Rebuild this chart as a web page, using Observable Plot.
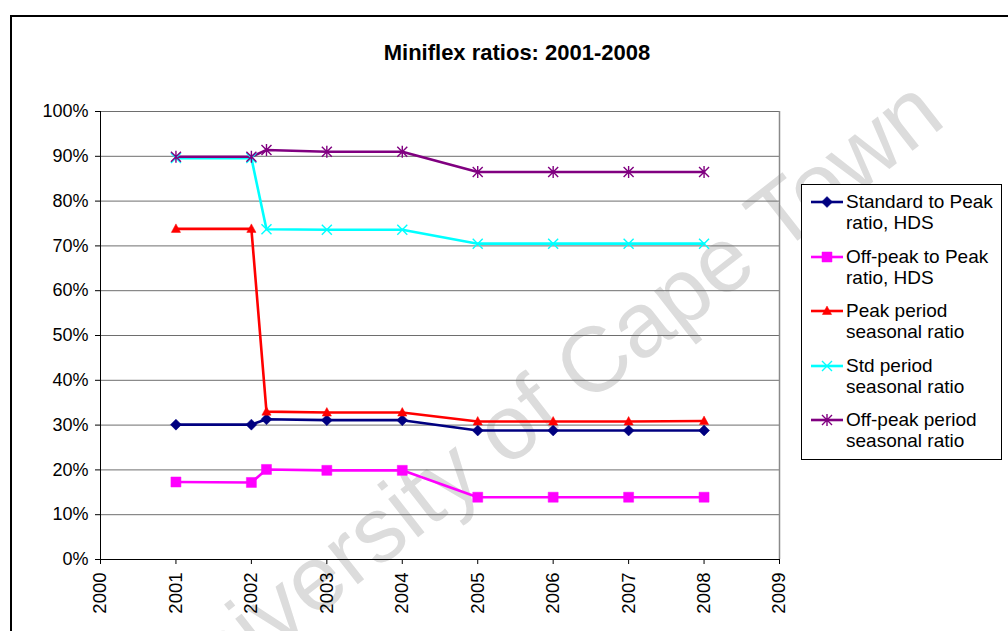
<!DOCTYPE html>
<html>
<head>
<meta charset="utf-8">
<script src="https://cdn.jsdelivr.net/npm/d3@7"></script>
<script src="https://cdn.jsdelivr.net/npm/@observablehq/plot@0.6"></script>
<style>
  html, body { margin: 0; padding: 0; background: white; }
  #wrap { position: relative; width: 1008px; height: 631px; overflow: hidden; background: white; font-family: "Liberation Sans", Arial, sans-serif; }
  #frame { position: absolute; left: 10px; top: 15px; width: 1200px; height: 800px; border: 2px solid black; }
  #watermark { position: absolute; left: 538px; top: 403px; transform: translate(-50%, -50%) rotate(-38deg); font-size: 92px; line-height: 1; color: #dcdcdc; white-space: nowrap; }
  #chart { position: absolute; left: 0; top: 0; }
  #title { position: absolute; left: 0; width: 1034px; top: 40px; text-align: center; font-weight: bold; font-size: 22px; }
  #legend { position: absolute; left: 801px; top: 184px; width: 201px; height: 276px; border: 1px solid black; background: white; box-sizing: border-box; }
  .entry { position: absolute; left: 7px; }
  .entry svg { position: absolute; left: 0; top: 0; }
  .entry .lbl { position: absolute; left: 37px; top: -11px; font-size: 19px; line-height: 21px; white-space: nowrap; }
</style>
</head>
<body>
<div id="wrap">
  <div id="frame"></div>
  <div id="watermark">University of Cape Town</div>
  <div id="chart"></div>
  <div id="title">Miniflex ratios: 2001-2008</div>
  <div id="legend"></div>
</div>
<script>
// ---- data ----
const years = [2001, 2002, 2002.2, 2003, 2004, 2005, 2006, 2007, 2008];
const seriesNames = [
  "Standard to Peak ratio, HDS",
  "Off-peak to Peak ratio, HDS",
  "Peak period seasonal ratio",
  "Std period seasonal ratio",
  "Off-peak period seasonal ratio"
];
const legendLines = [
  ["Standard to Peak", "ratio, HDS"],
  ["Off-peak to Peak", "ratio, HDS"],
  ["Peak period", "seasonal ratio"],
  ["Std period", "seasonal ratio"],
  ["Off-peak period", "seasonal ratio"]
];
const stdToPeakHDS      = [30.1, 30.1, 31.3, 31.1, 31.1, 28.8, 28.8, 28.8, 28.8];
const offpeakToPeakHDS  = [17.3, 17.2, 20.1, 19.9, 19.9, 13.9, 13.9, 13.9, 13.9];
const peakSeasonal      = [73.8, 73.8, 33.0, 32.8, 32.8, 30.8, 30.8, 30.8, 30.9];
const stdSeasonal       = [89.6, 89.6, 73.7, 73.6, 73.6, 70.5, 70.5, 70.5, 70.5];
const offpeakSeasonal   = [89.9, 89.9, 91.4, 91.0, 91.0, 86.5, 86.5, 86.5, 86.5];
const xTicks = [2000, 2001, 2002, 2003, 2004, 2005, 2006, 2007, 2008, 2009];
const yTicks = [0, 10, 20, 30, 40, 50, 60, 70, 80, 90, 100];

const seriesValues = [stdToPeakHDS, offpeakToPeakHDS, peakSeasonal, stdSeasonal, offpeakSeasonal];
const colors = ["#000080", "#FF00FF", "#FF0000", "#00FFFF", "#800080"];

// ---- marker symbols (Excel-like) ----
const symDiamond = {draw(c) { const r = 5.5; c.moveTo(0, -r); c.lineTo(r, 0); c.lineTo(0, r); c.lineTo(-r, 0); c.closePath(); }};
const symSquare = {draw(c) { const r = 5; c.moveTo(-r, -r); c.lineTo(r, -r); c.lineTo(r, r); c.lineTo(-r, r); c.closePath(); }};
const symTriangle = {draw(c) { c.moveTo(0, -5); c.lineTo(4.6, 3.5); c.lineTo(-4.6, 3.5); c.closePath(); }};
const symTimes = {draw(c) { const r = 5; c.moveTo(-r, -r); c.lineTo(r, r); c.moveTo(r, -r); c.lineTo(-r, r); }};
const symStar = {draw(c) { const r = 5; c.moveTo(-r, -r); c.lineTo(r, r); c.moveTo(r, -r); c.lineTo(-r, r); c.moveTo(0, -r - 1); c.lineTo(0, r + 1); }};
const symbols = [symDiamond, symSquare, symTriangle, symTimes, symStar];
const filled = [true, true, true, false, false];

const data = seriesNames.flatMap((s, i) => years.map((x, j) => ({series: s, x, y: seriesValues[i][j]})));

const W = 1008, H = 631;
const marks = [
  Plot.gridY(yTicks, {stroke: "#6e6e6e", strokeOpacity: 1, strokeWidth: 1}),
  Plot.ruleX([2009], {stroke: "#8a8a8a", strokeWidth: 1.5}),
  Plot.axisY(yTicks, {tickSize: 5, tickPadding: 7, tickFormat: d => d + "%", fontSize: 18, label: null}),
  Plot.axisX(xTicks, {tickSize: 5, tickPadding: 8, tickRotate: -90, tickFormat: d => String(d), fontSize: 18.5, label: null}),
  Plot.ruleX([2000], {stroke: "black", strokeWidth: 1}),
  Plot.ruleY([0], {stroke: "black", strokeWidth: 1})
];
seriesNames.forEach((s, i) => {
  const d = data.filter(r => r.series === s);
  marks.push(Plot.line(d, {x: "x", y: "y", stroke: colors[i], strokeWidth: 2.6, curve: "linear"}));
});
seriesNames.forEach((s, i) => {
  const d = data.filter(r => r.series === s);
  marks.push(Plot.dot(d, filled[i]
    ? {x: "x", y: "y", symbol: symbols[i], fill: colors[i], stroke: colors[i], strokeWidth: 0.5}
    : {x: "x", y: "y", symbol: symbols[i], fill: "none", stroke: colors[i], strokeWidth: 1.4}));
});

const chart = Plot.plot({
  width: W,
  height: H,
  marginLeft: 100,
  marginRight: W - 779,
  marginTop: 111,
  marginBottom: H - 559,
  style: {background: "transparent", fontFamily: "'Liberation Sans', Arial, sans-serif", color: "black", overflow: "visible"},
  x: {domain: [2000, 2009]},
  y: {domain: [0, 100]},
  marks
});
document.getElementById("chart").appendChild(chart);

// ---- legend ----
const legend = document.getElementById("legend");
const entryY = [17, 72, 126, 181, 235];
seriesNames.forEach((s, i) => {
  const e = document.createElement("div");
  e.className = "entry";
  e.style.top = entryY[i] + "px";
  const p = d3.path();
  symbols[i].draw(p);
  e.innerHTML =
    `<svg width="40" height="20" style="top:-10px;overflow:visible">` +
    `<line x1="2" x2="34" y1="10" y2="10" stroke="${colors[i]}" stroke-width="2.6"/>` +
    `<path transform="translate(18,10)" d="${p.toString()}" fill="${filled[i] ? colors[i] : "none"}" stroke="${colors[i]}" stroke-width="${filled[i] ? 0.5 : 1.4}"/>` +
    `</svg>` +
    `<div class="lbl">${legendLines[i][0]}<br>${legendLines[i][1]}</div>`;
  legend.appendChild(e);
});
</script>
</body>
</html>
